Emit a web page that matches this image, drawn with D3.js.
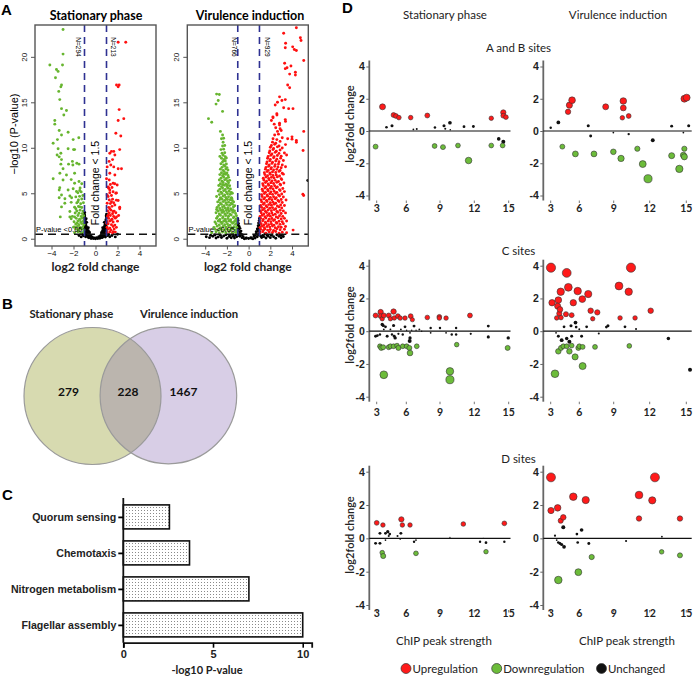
<!DOCTYPE html>
<html><head><meta charset="utf-8">
<script src="https://cdn.jsdelivr.net/npm/d3@7"></script>
<style>
body{margin:0;background:#fff;}
svg{font-family:Lato,"Open Sans",sans-serif;}
</style></head>
<body><svg id="fig" width="696" height="677"></svg>
<script>
// ===================== DATA =====================
// Panel A: volcano plots, points "x,y" (log2 fold change, -log10 p)
const volcXTicks = [-4, -2, 0, 2, 4];
const volcYTicks = [0, 5, 10, 15, 20];
const volcThreshold = 0.5;
const volcFoldLines = [-1, 1];

const statDown = "-2.95,23.0 -2.95,20.3 -4.15,19.1 -3.0,19.1 -3.55,18.6 -3.4,18.4 -3.64,17.7 -3.09,16.9 -3.15,16.7 -3.34,16.2 -3.25,15.3 -3.09,14.3 -2.64,14.1 -2.88,13.6 -3.7,13.0 -3.7,12.6 -3.3,11.9 -2.49,11.7 -3.09,11.4 -1.52,11.1 -2.03,10.9 -3.46,10.9 -3.85,10.5 -2.49,9.9 -3.4,9.9 -2.0,9.8 -1.9,9.8 -3.15,9.4 -3.49,9.2 -3.3,9.0 -3.09,8.7 -2.1,8.5 -1.7,8.3 -2.45,8.2 -1.5,8.2 -3.15,8.2 -2.06,8.1 -2.95,7.7 -3.24,7.2 -1.9,7.2 -2.64,7.0 -3.85,6.6 -2.95,6.45 -2.21,6.5 -1.5,6.3 -1.9,6.1 -3.3,5.35 -2.49,5.35 -2.03,5.5 -1.43,5.3 -1.73,5.2 -3.09,4.8 -2.33,4.7 -1.79,4.6 -1.6,4.06 -2.21,4.0 -2.79,3.9 -1.43,3.5 -3.09,3.5 -1.79,3.3 -2.33,3.0 -1.5,2.8 -1.9,2.4 -2.21,2.2 -1.4,2.1 -1.67,1.7 -1.9,1.3 -1.4,1.15 -3.3,4.5 -2.17,4.5 -2.78,4.4 -3.2,2.4 -2.33,2.4 -3.25,5.6 -1.9,0.65 -1.6,0.76 -1.35,0.62 -1.1,0.72 -1.75,1.05 -1.5,0.93 -1.25,1.08 -1.05,0.97 -2.0,1.27 -1.65,1.36 -1.4,1.24 -1.15,1.33 -1.8,1.62 -1.5,1.54 -1.25,1.68 -1.05,1.57 -1.95,1.86 -1.6,1.95 -1.35,1.84 -1.1,1.93 -1.75,2.24 -1.45,2.15 -1.2,2.27 -2.1,2.46 -1.6,2.55 -1.3,2.44 -1.08,2.53 -1.85,2.83 -1.2,2.76 -1.7,3.05 -1.4,3.14 -1.12,3.03 -1.9,3.46 -1.55,3.55 -1.25,3.44 -1.7,3.94 -1.35,3.85 -1.1,3.96 -1.55,4.27 -1.25,4.36 -1.45,4.66 -1.15,4.75 -1.6,5.05 -1.3,5.15 -1.4,5.58 -1.25,6.04";
const statUp = "2.06,21.6 2.75,21.6 1.91,16.9 2.15,16.9 2.06,16.7 2.15,14.2 2.57,13.2 2.06,13.0 1.85,11.6 2.3,11.3 2.2,9.8 1.45,9.6 1.66,9.6 1.3,9.4 1.76,9.2 1.55,8.7 1.24,8.5 1.39,8.1 1.66,7.9 1.06,7.9 2.06,7.7 2.36,7.7 1.3,7.2 1.76,7.0 1.0,6.6 1.6,6.1 1.97,5.9 1.15,5.7 1.3,5.35 1.85,5.0 1.06,4.8 2.06,4.2 1.45,4.06 1.06,3.9 1.76,3.7 1.3,3.3 2.2,3.3 1.6,3.0 1.15,2.6 1.91,2.4 1.45,2.05 1.0,1.7 1.76,1.5 1.3,1.15 1.6,0.78 1.05,0.66 1.3,0.75 1.55,0.64 1.8,0.73 1.1,1.04 1.4,0.95 1.7,1.06 1.05,1.27 1.6,1.35 1.9,1.25 1.15,1.64 1.45,1.55 1.05,1.86 1.3,1.95 1.6,1.84 2.0,1.93 1.2,2.24 1.5,2.15 1.8,2.26 1.1,2.45 1.35,2.56 1.65,2.44 2.1,2.55 1.25,2.84 1.55,2.75 1.85,2.86 1.1,3.05 1.4,3.15 1.7,3.04 1.2,3.45 1.5,3.56 2.2,3.47 1.35,3.86 1.65,3.95 1.25,4.26 1.55,4.35 1.9,4.24 1.15,4.65 1.45,4.75 1.3,5.05 1.6,5.16 1.9,5.04 1.2,5.55 1.5,5.64 1.35,5.96 1.75,6.05 1.25,6.46";
const statFlat = "-0.4,0.02 -0.2,0.03 0,0.0 0.2,0.02 0.4,0.04 -0.6,0.1 -0.3,0.12 -0.1,0.08 0.1,0.1 0.3,0.09 0.6,0.12 -1.3,0.2 -0.9,0.22 -0.7,0.18 -0.5,0.21 -0.3,0.19 0.3,0.22 0.5,0.18 0.7,0.21 0.9,0.19 1.3,0.22 1.8,0.2 -1.5,0.35 -1.1,0.33 -0.85,0.37 -0.65,0.34 -0.45,0.36 0.45,0.33 0.65,0.37 0.85,0.35 1.1,0.34 1.5,0.36 -1.2,0.5 -0.95,0.52 -0.75,0.48 -0.55,0.51 0.55,0.49 0.75,0.52 0.95,0.5 1.2,0.48 2.0,0.5 -1.0,0.7 -0.85,0.72 -0.7,0.68 -0.55,0.71 0.55,0.69 0.7,0.72 0.85,0.7 1.0,0.68 -0.95,0.9 -0.8,0.92 -0.65,0.88 0.65,0.91 0.8,0.89 0.95,0.92 -1.0,1.1 -0.88,1.12 -0.75,1.08 0.75,1.11 0.88,1.09 1.0,1.12 -0.65,1.2 0.65,1.2 -0.95,1.3 -0.82,1.32 0.8,1.28 0.93,1.31 -1.0,1.5 -0.88,1.52 0.85,1.48 0.97,1.51 -0.95,1.7 -0.9,1.72 0.9,1.68 1.0,1.71 -0.8,1.8 0.8,1.8 -1.0,1.9 -0.92,1.92 0.92,1.88 0.98,1.91 -0.97,2.1 0.95,2.1 -0.85,2.2 -1.0,2.3 1.0,2.3 -0.98,2.5 0.97,2.5 -1.0,2.7 1.0,2.7 -0.99,2.9";

const virDown = "-2.95,15.9 -2.7,15.85 -2.8,15.2 -3.0,14.8 -2.4,14.0 -3.7,13.2 -3.4,12.8 -2.6,11.8 -2.4,11.4 -2.5,11.0 -2.3,11.05 -2.35,10.6 -2.4,10.2 -2.2,10.25 -2.55,9.8 -2.3,9.85 -2.45,9.4 -2.2,9.45 -2.65,9.05 -2.35,9.18 -2.15,9.02 -2.5,8.85 -2.25,8.72 -2.05,8.88 -2.3,8.6 -2.4,8.45 -2.15,8.55 -2.55,8.25 -2.3,8.12 -2.05,8.22 -2.45,7.85 -2.2,7.98 -2.0,7.82 -2.6,7.65 -2.35,7.52 -2.1,7.68 -1.9,7.55 -2.5,7.25 -2.25,7.38 -2.0,7.22 -2.3,7.12 -2.1,7.18 -2.65,7.05 -2.4,6.92 -2.15,7.08 -1.9,6.95 -2.55,6.65 -2.3,6.78 -2.05,6.62 -1.85,6.75 -2.7,6.45 -2.45,6.32 -2.2,6.48 -1.95,6.35 -1.75,6.42 -2.6,6.05 -2.35,6.18 -2.1,6.02 -1.85,6.15 -2.4,5.95 -1.95,5.92 -2.75,5.85 -2.5,5.72 -2.25,5.88 -2.0,5.75 -1.75,5.82 -2.65,5.45 -2.4,5.58 -2.15,5.42 -1.9,5.55 -1.68,5.48 -2.8,5.25 -2.55,5.12 -2.3,5.28 -2.05,5.15 -1.8,5.22 -1.6,5.1 -2.7,4.85 -2.45,4.98 -2.2,4.82 -1.95,4.95 -1.7,4.88 -1.5,5.0 -2.95,4.65 -2.6,4.52 -2.35,4.68 -2.1,4.55 -1.85,4.62 -1.6,4.5 -2.55,4.42 -2.05,4.4 -1.55,4.45 -2.7,4.25 -2.45,4.35 -2.2,4.22 -1.95,4.32 -1.7,4.28 -1.5,4.2 -2.85,4.05 -2.6,3.92 -2.35,4.08 -2.1,3.95 -1.85,4.02 -1.6,3.9 -1.38,4.05 -2.75,3.65 -2.5,3.78 -2.25,3.62 -2.0,3.75 -1.75,3.68 -1.5,3.8 -1.28,3.62 -2.9,3.45 -2.65,3.32 -2.4,3.48 -2.15,3.35 -1.9,3.42 -1.65,3.3 -1.4,3.5 -2.95,3.22 -2.4,3.2 -1.9,3.25 -1.45,3.18 -2.8,3.05 -2.55,3.12 -2.3,3.0 -2.05,3.1 -1.8,3.02 -1.55,3.12 -1.3,3.05 -3.0,2.85 -2.7,2.72 -2.45,2.88 -2.2,2.75 -1.95,2.82 -1.7,2.7 -1.45,2.9 -1.2,2.78 -2.85,2.45 -2.6,2.58 -2.35,2.42 -2.1,2.55 -1.85,2.48 -1.6,2.6 -1.35,2.4 -1.12,2.52 -2.95,2.25 -2.65,2.12 -2.4,2.28 -2.15,2.15 -1.9,2.22 -1.65,2.1 -1.4,2.3 -1.15,2.18 -2.7,2.0 -2.2,2.02 -1.7,1.98 -1.2,2.05 -3.1,1.85 -2.8,1.95 -2.55,1.82 -2.3,1.92 -2.05,1.86 -1.8,1.95 -1.55,1.8 -1.3,1.9 -1.08,1.84 -3.0,1.65 -2.7,1.52 -2.45,1.68 -2.2,1.55 -1.95,1.62 -1.7,1.5 -1.45,1.7 -1.2,1.58 -3.2,1.25 -2.9,1.38 -2.6,1.22 -2.35,1.35 -2.1,1.28 -1.85,1.4 -1.6,1.2 -1.35,1.32 -1.1,1.26 -2.65,1.12 -2.05,1.1 -1.55,1.15 -3.1,1.05 -2.8,0.92 -2.5,1.02 -2.2,0.95 -1.95,1.03 -1.7,0.9 -1.45,1.06 -1.2,0.96 -3.4,0.65 -3.0,0.76 -2.7,0.62 -2.4,0.74 -2.1,0.66 -1.8,0.78 -1.5,0.6 -1.2,0.72 -1.05,0.66";
const virUp = "4.4,23.2 3.23,22.6 4.77,22.1 4.83,21.8 3.41,21.5 4.06,21.1 3.38,21.0 4.21,20.8 4.4,20.7 5.08,19.6 3.32,19.3 3.9,19.0 3.54,18.8 3.38,18.7 4.31,18.3 3.78,18.1 4.31,18.0 3.6,16.9 3.78,16.6 2.85,15.6 3.38,15.3 3.07,15.2 2.66,15.0 2.45,14.7 3.23,14.4 3.69,14.3 4.09,14.3 2.61,13.6 2.6,13.75 2.24,13.4 2.25,13.3 3.38,13.1 2.1,13.0 3.4,12.9 2.36,12.6 2.85,12.7 2.85,12.5 2.5,12.2 2.9,12.1 2.66,11.8 3.0,11.9 5.08,11.8 2.4,11.4 2.75,11.5 4.0,11.2 2.25,11.0 2.6,10.9 3.1,11.1 3.6,11.0 4.0,10.95 4.4,10.8 2.2,10.62 2.5,10.5 2.9,10.7 4.4,10.6 2.1,10.25 2.4,10.38 2.8,10.2 3.4,10.35 2.0,10.05 2.3,9.92 2.65,10.1 3.1,9.98 1.95,9.65 2.25,9.8 2.55,9.62 2.9,9.75 5.02,9.7 1.9,9.45 2.15,9.32 2.45,9.5 2.8,9.38 3.3,9.42 1.8,9.05 2.05,9.18 2.35,9.02 2.65,9.15 3.0,9.08 3.5,9.2 1.75,8.85 2.0,8.72 2.3,8.9 2.6,8.75 2.95,8.86 1.7,8.45 1.95,8.58 2.2,8.42 2.5,8.55 2.8,8.47 3.2,8.6 1.65,8.25 1.9,8.12 2.15,8.28 2.45,8.15 2.75,8.22 3.1,8.1 1.6,7.85 1.85,7.97 2.1,7.82 2.4,7.95 2.7,7.88 3.0,7.8 3.4,7.92 1.55,7.65 1.8,7.52 2.05,7.68 2.3,7.55 2.6,7.63 2.9,7.5 1.45,7.25 1.7,7.38 1.95,7.22 2.2,7.35 2.5,7.28 2.8,7.4 3.1,7.2 1.5,7.05 1.75,6.92 2.0,7.08 2.25,6.95 2.55,7.02 2.85,6.9 3.2,7.1 1.35,6.65 1.6,6.78 1.85,6.62 2.1,6.75 2.35,6.68 2.65,6.8 3.0,6.6 1.4,6.45 1.65,6.32 1.9,6.48 2.15,6.35 2.45,6.42 2.75,6.3 3.05,6.5 1.3,6.05 1.55,6.18 1.8,6.02 2.05,6.15 2.3,6.08 2.6,6.2 2.9,6.0 3.25,6.12 1.35,5.85 1.6,5.72 1.85,5.88 2.1,5.75 2.4,5.82 2.65,5.7 2.95,5.9 1.25,5.45 1.5,5.58 1.75,5.42 2.0,5.55 2.25,5.48 2.55,5.6 2.85,5.4 3.15,5.52 1.3,5.25 1.55,5.12 1.8,5.28 2.05,5.15 2.35,5.22 2.6,5.1 2.9,5.3 3.3,5.18 1.2,4.85 1.45,4.98 1.7,4.82 1.95,4.95 2.2,4.88 2.5,5.0 2.75,4.8 3.05,4.92 5.0,4.9 5.07,4.75 1.25,4.65 1.5,4.52 1.75,4.68 2.0,4.55 2.3,4.62 2.55,4.5 2.85,4.7 3.2,4.58 1.15,4.25 1.4,4.38 1.65,4.22 1.9,4.35 2.15,4.28 2.45,4.4 2.7,4.2 3.0,4.32 3.45,4.25 1.2,4.05 1.45,3.92 1.7,4.08 2.0,3.95 2.25,4.02 2.5,3.9 2.8,4.1 3.1,3.98 1.1,3.65 1.35,3.78 1.6,3.62 1.85,3.75 2.1,3.68 2.35,3.8 2.65,3.6 2.95,3.72 3.3,3.66 1.2,3.45 1.45,3.32 1.7,3.48 1.95,3.35 2.2,3.42 2.5,3.3 2.8,3.5 3.05,3.38 1.1,3.05 1.3,3.18 1.55,3.02 1.8,3.15 2.1,3.08 2.35,3.2 2.6,3.0 2.9,3.12 3.2,3.06 1.15,2.85 1.4,2.72 1.65,2.88 1.9,2.75 2.15,2.82 2.45,2.7 2.7,2.9 3.0,2.78 3.4,2.84 1.05,2.45 1.25,2.58 1.5,2.42 1.75,2.55 2.0,2.48 2.25,2.6 2.55,2.4 2.85,2.52 3.15,2.46 1.1,2.25 1.35,2.12 1.6,2.28 1.9,2.15 2.15,2.22 2.4,2.1 2.7,2.3 3.0,2.18 3.3,2.24 1.05,1.85 1.3,1.98 1.55,1.82 1.8,1.95 2.05,1.88 2.3,2.0 2.55,1.8 2.8,1.92 3.1,1.86 3.5,1.95 1.15,1.65 1.4,1.52 1.6,1.68 1.85,1.55 2.1,1.62 2.35,1.5 2.6,1.7 2.9,1.58 3.2,1.64 1.05,1.25 1.25,1.38 1.45,1.22 1.7,1.35 1.95,1.28 2.2,1.4 2.45,1.2 2.75,1.32 3.0,1.26 3.4,1.35 1.1,1.05 1.35,0.92 1.5,1.08 1.75,0.95 2.0,1.02 2.3,0.9 2.6,1.1 2.9,0.98 3.3,1.04 4.1,0.95 1.05,0.65 1.3,0.78 1.6,0.62 1.9,0.75 2.2,0.68 2.5,0.8 2.8,0.6 3.1,0.72 3.5,0.66";
const virFlat = "-0.4,0.0 0,0.02 0.4,0.0 -0.25,0.06 0.25,0.05 -3.6,0.12 -3.0,0.08 -2.5,0.14 -2.0,0.06 -1.6,0.11 -1.3,0.07 -0.6,0.12 -0.2,0.08 0.2,0.12 0.6,0.07 1.2,0.13 1.6,0.08 2.0,0.12 2.5,0.06 3.0,0.1 -3.9,0.22 -3.3,0.28 -2.8,0.2 -2.3,0.3 -1.8,0.24 -1.4,0.27 -1.1,0.21 -0.8,0.28 -0.5,0.23 0.5,0.27 0.8,0.22 1.1,0.29 1.4,0.23 1.8,0.27 2.3,0.21 2.8,0.26 3.2,0.24 -3.5,0.38 -3.1,0.42 -2.6,0.37 -2.1,0.43 -1.7,0.39 -1.2,0.41 -0.9,0.36 -0.6,0.44 0.6,0.38 0.9,0.43 1.3,0.37 1.7,0.42 2.1,0.38 2.6,0.44 3.0,0.39 -1.5,0.55 -1.0,0.52 -0.75,0.58 0.7,0.54 1.0,0.57 1.5,0.52 -1.0,0.8 -0.85,0.76 -0.7,0.84 0.7,0.78 0.85,0.83 1.0,0.79 -1.0,1.1 -0.9,1.06 -0.8,1.14 0.8,1.08 0.9,1.12 1.0,1.1 -0.98,1.4 -0.88,1.36 0.88,1.42 0.98,1.38 -1.0,1.7 -0.93,1.66 0.92,1.72 1.0,1.68 -0.97,2.0 0.97,1.98 -1.0,2.2 1.0,2.22 5.45,6.4";

const volcTitles = ["Stationary phase", "Virulence induction"];
const volcN = [["N=294", "N=213"], ["N=766", "N=929"]];

// Panel B: Venn
const vennSets = ["Stationary phase", "Virulence induction"];
const vennCounts = [279, 228, 1467];

// Panel C: KEGG enrichment
const keggTerms = ["Quorum sensing", "Chemotaxis", "Nitrogen metabolism", "Flagellar assembly"];
const keggValues = [2.57, 3.69, 7.0, 10.0];
const keggTicks = [0, 5, 10];

// Panel D: bubble plots [ChIP peak strength, log2 fold change]
const dXTicks = [3, 6, 9, 12, 15];
const dYTicks = [-4, -2, 0, 2, 4];
const dConditions = ["Stationary phase", "Virulence induction"];
const dSiteGroups = ["A and B sites", "C sites", "D sites"];
const dLegend = ["Upregulation", "Downregulation", "Unchanged"];

const abStatUp = [[3.59,1.5],[4.71,0.99],[4.95,0.93],[5.25,0.83],[6.39,0.83],[7.87,0.96],[13.48,0.79],[14.53,1.15],[14.53,0.95],[14.76,0.86]];
const abStatDown = [[2.9,-0.97],[8.52,-0.93],[9.26,-1.0],[10.57,-0.9],[11.5,-1.83],[13.48,-0.9],[14.47,-0.9]];
const abStatFlat = [[3.99,0.23],[4.55,0.33],[6.63,0.1],[6.93,0.13],[8.55,0.22],[9.35,0.33],[9.46,0.14],[9.87,0.51],[9.9,0.08],[11.1,0.27],[11.92,0.28],[14.13,-0.49],[14.53,-0.66]];
const abVirUp = [[4.82,1.19],[4.96,1.6],[5.24,1.91],[8.3,1.5],[9.8,1.86],[9.8,1.43],[9.72,0.82],[10.25,0.93],[14.84,2.0],[15.03,2.07]];
const abVirDown = [[4.22,-0.97],[5.59,-1.42],[7.28,-1.42],[8.97,-1.29],[9.61,-1.7],[10.97,-1.1],[11.42,-2.05],[11.86,-2.96],[13.8,-1.53],[14.43,-2.35],[14.84,-1.1],[14.76,-1.5],[14.84,-1.6]];
const abVirFlat = [[3.0,0.2],[3.8,0.53],[6.78,0.33],[6.99,-0.31],[8.97,-0.1],[10.25,-0.19],[12.25,-0.57],[13.8,0.3],[14.76,-0.1],[15.2,0.33]];

const cStatUp = [[2.9,0.96],[3.4,1.17],[3.4,0.92],[3.56,0.76],[3.72,0.96],[4.22,0.96],[4.39,0.76],[4.71,1.2],[4.78,0.81],[5.15,0.92],[5.38,0.8],[5.87,0.8],[6.39,0.92],[6.54,0.7],[7.87,0.84],[8.94,0.88],[8.94,0.8],[9.53,0.8],[11.62,0.96]];
const cStatDown = [[3.33,-0.92],[3.46,-1.02],[3.66,-0.98],[4.22,-0.98],[4.39,-0.92],[4.71,-0.92],[5.06,-0.88],[5.2,-1.02],[5.64,-0.92],[6.03,-0.92],[6.27,-1.02],[6.33,-1.33],[6.93,-0.92],[10.46,-0.82],[14.91,-1.02],[3.72,-2.66],[9.87,-2.45],[9.87,-2.96]];
const cStatFlat = [[2.9,-0.31],[3.07,-0.27],[3.33,-0.2],[3.66,0.35],[3.56,0.41],[3.89,0.27],[3.72,0.11],[4.06,-0.31],[4.39,0.11],[4.55,-0.2],[4.78,-0.31],[4.87,-0.41],[4.71,0.35],[5.2,-0.16],[5.45,0.11],[5.64,-0.2],[5.87,0.27],[6.03,0.06],[6.33,-0.1],[6.33,-0.41],[6.3,-0.6],[6.48,0.06],[6.69,0.31],[6.87,0.06],[7.16,0.11],[7.37,0.0],[8.17,0.2],[8.17,-0.1],[9.0,0.2],[9.53,-0.1],[10.03,-0.2],[10.41,0.2],[10.41,-0.2],[11.69,-0.16],[13.22,0.31],[13.22,-0.35],[14.96,-0.41]];
const cVirUp = [[3.03,3.88],[3.14,1.74],[3.8,1.9],[3.73,1.53],[3.63,0.81],[3.9,1.08],[3.97,1.33],[4.08,0.83],[4.05,2.41],[4.68,3.56],[4.6,1.04],[4.85,2.68],[5.2,0.98],[5.37,1.74],[5.83,2.45],[6.26,1.96],[6.78,2.27],[6.99,1.25],[7.17,0.76],[7.57,1.15],[9.44,2.76],[9.53,0.81],[10.25,2.41],[10.44,3.88],[10.78,0.81],[12.08,1.25]];
const cVirDown = [[3.45,-2.6],[3.8,-1.23],[4.08,-1.02],[4.32,-0.92],[4.68,-0.92],[4.96,-1.23],[5.2,-0.88],[5.56,-1.57],[5.9,-1.02],[6.0,-0.92],[6.29,-0.96],[6.29,-2.13],[7.37,-0.96],[10.3,-0.9]];
const cVirFlat = [[3.56,-0.1],[3.8,-0.31],[4.15,-0.55],[4.4,0.27],[4.68,-0.45],[4.96,-0.65],[5.13,0.33],[5.2,-0.31],[5.6,0.53],[5.67,0.25],[6.0,0.12],[6.2,-0.31],[6.64,0.27],[7.7,-0.14],[8.36,0.25],[8.5,0.33],[9.94,0.27],[10.86,0.14],[13.53,-0.45],[15.31,-2.35]];

const dStatUp = [[3.0,0.93],[3.63,0.8],[5.5,1.14],[5.6,0.8],[6.33,0.8],[11.04,0.86],[14.62,0.9]];
const dStatDown = [[3.56,-0.86],[3.66,-1.06],[6.86,-0.9],[13.02,-0.8]];
const dStatFlat = [[2.9,-0.3],[3.33,-0.3],[3.33,0.3],[3.89,0.3],[4.12,0.4],[4.32,0.26],[4.22,0.14],[3.89,-0.1],[5.11,0.14],[5.45,0.3],[5.38,-0.06],[6.69,-0.2],[6.86,-0.1],[9.87,0.06],[12.5,-0.2],[13.02,-0.26],[14.62,-0.2],[12.78,0.0]];
const dVirUp = [[3.03,3.66],[3.03,1.67],[3.73,1.83],[4.05,1.06],[4.32,1.26],[5.37,2.5],[6.56,2.3],[11.11,2.6],[11.11,1.19],[12.21,2.28],[12.43,3.66],[14.48,1.19]];
const dVirDown = [[3.8,-2.5],[5.9,-2.03],[7.08,-1.12],[12.98,-0.81],[14.48,-1.02]];
const dVirFlat = [[3.45,0.16],[3.63,-0.1],[3.8,-0.25],[3.97,-0.31],[4.15,-0.37],[4.32,0.67],[4.4,-0.51],[5.75,0.26],[5.83,-0.25],[6.2,0.5],[6.83,-0.31],[10.03,-0.16],[13.0,0.1]];

// ===================== DRAWING =====================
const svg = d3.select("#fig");
const defs = svg.append("defs");
function parsePairs(s){
  return s.trim().split(/\s+/).map(t => t.split(",").map(Number));
}
function label(txt, x, y){
  svg.append("text").attr("x", x).attr("y", y).attr("font-family","Arial, Liberation Sans, sans-serif")
    .attr("font-weight","bold").attr("font-size", 15).text(txt);
}
label("A", 1, 15); label("B", 2, 309); label("C", 2, 500); label("D", 342, 13);

// ---------- Panel A ----------
const AGREEN = "#67b52f", ARED = "#ff1010";
const volcCfg = [
  {id:"s", x0:35, x1:156, xd:[-5.5,5.5], down:statDown, up:statUp, flat:statFlat, tx:96, nx:[77.7,112.7], pv:36, ylab:true},
  {id:"v", x0:187.3, x1:308.3, xd:[-5.65,5.5], down:virDown, up:virUp, flat:virFlat, tx:250, nx:[234,267.3], pv:188.5, ylab:false}
];
volcCfg.forEach((c, i) => {
  const x = d3.scaleLinear().domain(c.xd).range([c.x0, c.x1]);
  const y = d3.scaleLinear().domain([-0.8, 23.5]).range([246, 25]);
  defs.append("clipPath").attr("id","clip"+c.id).append("rect")
    .attr("x", c.x0).attr("y", 25).attr("width", c.x1-c.x0).attr("height", 221);
  const g = svg.append("g");
  const pg = g.append("g").attr("clip-path", `url(#clip${c.id})`);
  const sets = [[parsePairs(c.flat), "#000"], [parsePairs(c.down), AGREEN], [parsePairs(c.up), ARED]];
  sets.forEach(([pts, col]) => {
    pg.append("g").selectAll("circle").data(pts).join("circle")
      .attr("cx", d => x(d[0])).attr("cy", d => y(d[1])).attr("r", 1.45).attr("fill", col);
  });
  g.append("line").attr("x1", c.x0).attr("x2", c.x1).attr("y1", y(volcThreshold)).attr("y2", y(volcThreshold))
    .attr("stroke","#111").attr("stroke-width",1.5).attr("stroke-dasharray","8,5");
  volcFoldLines.forEach(v => {
    g.append("line").attr("x1", x(v)).attr("x2", x(v)).attr("y1", 25).attr("y2", 246)
      .attr("stroke","#2e3192").attr("stroke-width",1.6).attr("stroke-dasharray","7,5");
  });
  g.append("rect").attr("x", c.x0).attr("y", 25).attr("width", c.x1-c.x0).attr("height", 221)
    .attr("fill","none").attr("stroke","#555").attr("stroke-width",1.4);
  const ax = g.append("g").attr("transform", "translate(0,246)")
    .call(d3.axisBottom(x).tickValues(volcXTicks).tickSize(3.5).tickPadding(1));
  ax.select(".domain").remove();
  ax.selectAll("text").attr("font-size", 8).attr("font-family","Liberation Sans, Arial, sans-serif").attr("fill","#111");
  ax.selectAll("line").attr("stroke","#555");
  const ay = g.append("g").attr("transform", `translate(${c.x0},0)`)
    .call(d3.axisLeft(y).tickValues(volcYTicks).tickSize(4));
  ay.select(".domain").remove();
  ay.selectAll("line").attr("stroke","#555");
  ay.selectAll("text").attr("x", null).attr("dy", null).attr("y", null)
    .attr("transform","translate(-8,0) rotate(-90)").attr("text-anchor","middle")
    .attr("font-size", 8).attr("font-family","Liberation Sans, Arial, sans-serif").attr("fill","#111");
  g.append("text").attr("x", c.tx).attr("y", 19.5).attr("text-anchor","middle")
    .attr("font-weight","bold").attr("font-size",12.5).text(volcTitles[i]);
  g.append("text").attr("x", (c.x0+c.x1)/2).attr("y", 271).attr("text-anchor","middle")
    .attr("font-weight","bold").attr("font-size",12).attr("fill","#222").text("log2 fold change");
  volcN[i].forEach((t, k) => {
    g.append("text").attr("transform", `translate(${c.nx[k]-2},47) rotate(90)`).attr("text-anchor","middle")
      .attr("font-size",6.5).attr("font-family","Liberation Sans, Arial, sans-serif").text(t);
  });
  g.append("text").attr("transform", `translate(${x(0)+3.5},183) rotate(-90)`).attr("text-anchor","middle")
    .attr("font-size",10.5).attr("font-family","Liberation Sans, Arial, sans-serif").text("Fold change < 1.5");
  g.append("text").attr("x", c.pv).attr("y", 232).attr("font-size",7.5)
    .attr("font-family","Liberation Sans, Arial, sans-serif").text("P-value <0.05");
  if(c.ylab){
    g.append("text").attr("transform","translate(18,134) rotate(-90)").attr("text-anchor","middle")
      .attr("font-size",11).attr("font-family","Liberation Sans, Arial, sans-serif").text("\u2212log10 (P-value)");
  }
});

// ---------- Panel B ----------
const vennC = [{cx:92.5, cy:396, r:68.5, fill:"#d7dab0"}, {cx:168.4, cy:395.5, r:68.3, fill:"#d8cee6"}];
defs.append("clipPath").attr("id","vennClip").append("circle")
  .attr("cx", vennC[0].cx).attr("cy", vennC[0].cy).attr("r", vennC[0].r);
const vb = svg.append("g");
vb.selectAll("circle.f").data(vennC).join("circle").attr("class","f")
  .attr("cx", d=>d.cx).attr("cy", d=>d.cy).attr("r", d=>d.r).attr("fill", d=>d.fill);
vb.append("circle").attr("cx", vennC[1].cx).attr("cy", vennC[1].cy).attr("r", vennC[1].r)
  .attr("fill","#bbb5ae").attr("clip-path","url(#vennClip)");
vb.selectAll("circle.s").data(vennC).join("circle").attr("class","s")
  .attr("cx", d=>d.cx).attr("cy", d=>d.cy).attr("r", d=>d.r).attr("fill","none")
  .attr("stroke","#9a9a9a").attr("stroke-width",1.2);
[71.3, 189].forEach((x, i) => vb.append("text").attr("x", x).attr("y", 318).attr("text-anchor","middle")
  .attr("font-weight","bold").attr("font-size",11.3).attr("fill","#222").text(vennSets[i]));
[68.5, 128, 183.5].forEach((x, i) => vb.append("text").attr("x", x).attr("y", 396).attr("text-anchor","middle")
  .attr("font-weight","bold").attr("font-size",12).attr("fill","#111").text(vennCounts[i]));

// ---------- Panel C ----------
const pat = defs.append("pattern").attr("id","dots").attr("width",3).attr("height",3).attr("patternUnits","userSpaceOnUse");
pat.append("rect").attr("width",3).attr("height",3).attr("fill","#fff");
pat.append("rect").attr("width",1).attr("height",1).attr("fill","#8a8a8a");
const cx = d3.scaleLinear().domain([0, 10.5]).range([123.3, 311.7]);
const cy = d3.scalePoint().domain(keggTerms).range([516.9, 624.9]);
const cg = svg.append("g");
cg.selectAll("rect.bar").data(keggTerms).join("rect").attr("class","bar")
  .attr("x", cx(0)).attr("y", d => cy(d)-12).attr("height", 24)
  .attr("width", (d,i) => cx(keggValues[i]) - cx(0))
  .attr("fill","url(#dots)").attr("stroke","#111").attr("stroke-width",1.6);
const cAx = cg.append("g").attr("transform","translate(0,642.7)")
  .call(d3.axisBottom(cx).tickValues(keggTicks).tickSize(5).tickPadding(3));
cAx.select(".domain").attr("stroke-width",1.8).attr("stroke","#111");
cAx.selectAll("line").attr("stroke-width",1.6);
cAx.selectAll("text").attr("font-size",11).attr("font-weight","bold").attr("fill","#222");
const cAy = cg.append("g").attr("transform", `translate(${cx(0)},0)`)
  .call(d3.axisLeft(cy).tickSize(5).tickPadding(2));
cAy.select(".domain").attr("d", `M0,498V642.7`).attr("stroke-width",1.8).attr("stroke","#111");
cAy.selectAll("line").attr("stroke-width",1.8);
cAy.selectAll("text").attr("font-size",10.6).attr("font-weight","bold").attr("fill","#222");
cg.append("text").attr("x", 207).attr("y", 674).attr("text-anchor","middle")
  .attr("font-weight","bold").attr("font-size",11).attr("fill","#222").text("-log10 P-value");

// ---------- Panel D ----------
const DRED = "#ff1a1a", DGREEN = "#6cbc3a";
const rScale = d3.scalePow().exponent(0.45).domain([0, 4]).range([0, 4.66]);
const dCols = [
  {dom:[2.34,3,6,9,12,15,15.15], rng:[369.3,376.7,406.3,440,474.3,508.7,510.5], tx:445, lx:444},
  {dom:[2.22,3,6,9,12,15,15.45], rng:[543.3,550.7,579.3,613.7,649.7,686.3,691.7], tx:618, lx:627}
];
const dRows = [
  {y4:66.5, ym4:195.5, xl:212, title:52, sets:[[abStatUp,abStatDown,abStatFlat],[abVirUp,abVirDown,abVirFlat]], ylab:124},
  {y4:265.7, ym4:396.7, xl:415.5, title:255, sets:[[cStatUp,cStatDown,cStatFlat],[cVirUp,cVirDown,cVirFlat]], ylab:325},
  {y4:471.7, ym4:605, xl:617, title:463, sets:[[dStatUp,dStatDown,dStatFlat],[dVirUp,dVirDown,dVirFlat]], ylab:535}
];
dCols.forEach((c, i) => svg.append("text").attr("x", c.tx).attr("y", 19).attr("text-anchor","middle")
  .attr("font-size",11.5).attr("fill","#222").text(dConditions[i]));
dRows.forEach((row, ri) => {
  svg.append("text").attr("x", 518.5).attr("y", row.title).attr("text-anchor","middle")
    .attr("font-size",11.5).attr("fill","#222").text(dSiteGroups[ri]);
  const y = d3.scaleLinear().domain([-4, 4]).range([row.ym4, row.y4]);
  dCols.forEach((c, ci) => {
    const x = d3.scaleLinear().domain(c.dom).range(c.rng);
    const g = svg.append("g");
    const x0 = c.rng[0], x1 = c.rng[c.rng.length-1];
    g.append("line").attr("x1", x0).attr("x2", x0).attr("y1", row.y4-6).attr("y2", row.ym4+5)
      .attr("stroke","#666").attr("stroke-width",1.8);
    const ay = g.append("g").attr("transform", `translate(${x0},0)`)
      .call(d3.axisLeft(y).tickValues(dYTicks).tickSize(3).tickPadding(1.5));
    ay.select(".domain").remove();
    ay.selectAll("line").attr("stroke","#666");
    ay.selectAll("text").attr("font-size",10.5).attr("font-weight","bold").attr("fill","#222")
      .text(d => d < 0 ? "-" + Math.abs(d) : d);
    g.append("line").attr("x1", x0).attr("x2", x1).attr("y1", y(0)).attr("y2", y(0))
      .attr("stroke","#111").attr("stroke-width",1.2);
    g.selectAll("line.xt").data(dXTicks).join("line").attr("class","xt")
      .attr("x1", d=>x(d)).attr("x2", d=>x(d)).attr("y1", row.ym4+5).attr("y2", row.ym4+7.5)
      .attr("stroke","#777").attr("stroke-width",1);
    g.selectAll("text.xl").data(dXTicks).join("text").attr("class","xl")
      .attr("x", d=>x(d)).attr("y", row.xl).attr("text-anchor","middle")
      .attr("font-size",10.5).attr("font-weight","bold").attr("fill","#222").text(d=>d);
    const [up, down, flat] = row.sets[ci];
    const layers = [[flat, "#111", false], [down, DGREEN, true], [up, DRED, true]];
    layers.forEach(([pts, col, stroked]) => {
      g.append("g").selectAll("circle").data(pts).join("circle")
        .attr("cx", d => x(d[0])).attr("cy", d => y(d[1]))
        .attr("r", d => stroked ? Math.max(2, rScale(Math.abs(d[1]))) : Math.min(2, Math.max(0.7, rScale(Math.abs(d[1])))))
        .attr("fill", col).attr("stroke", stroked ? "#333" : "none").attr("stroke-width", 0.6);
    });
    if(ci === 0){
      g.append("text").attr("transform", `translate(354,${row.ylab}) rotate(-90)`).attr("text-anchor","middle")
        .attr("font-size",11).attr("font-weight",600).attr("fill","#222").text("log2fold change");
    }
    if(ri === 2){
      g.append("text").attr("x", c.lx).attr("y", 645).attr("text-anchor","middle")
        .attr("font-size",11.5).attr("fill","#222").text("ChIP peak strength");
    }
  });
});
const legCfg = [{x:406, col:DRED}, {x:496.7, col:DGREEN}, {x:601.5, col:"#111"}];
legCfg.forEach((l, i) => {
  svg.append("circle").attr("cx", l.x).attr("cy", 668.5).attr("r", 5).attr("fill", l.col)
    .attr("stroke","#333").attr("stroke-width",0.7);
  svg.append("text").attr("x", l.x+6.5).attr("y", 672.5).attr("font-size",11.5).attr("fill","#222").text(dLegend[i]);
});
</script></body></html>
